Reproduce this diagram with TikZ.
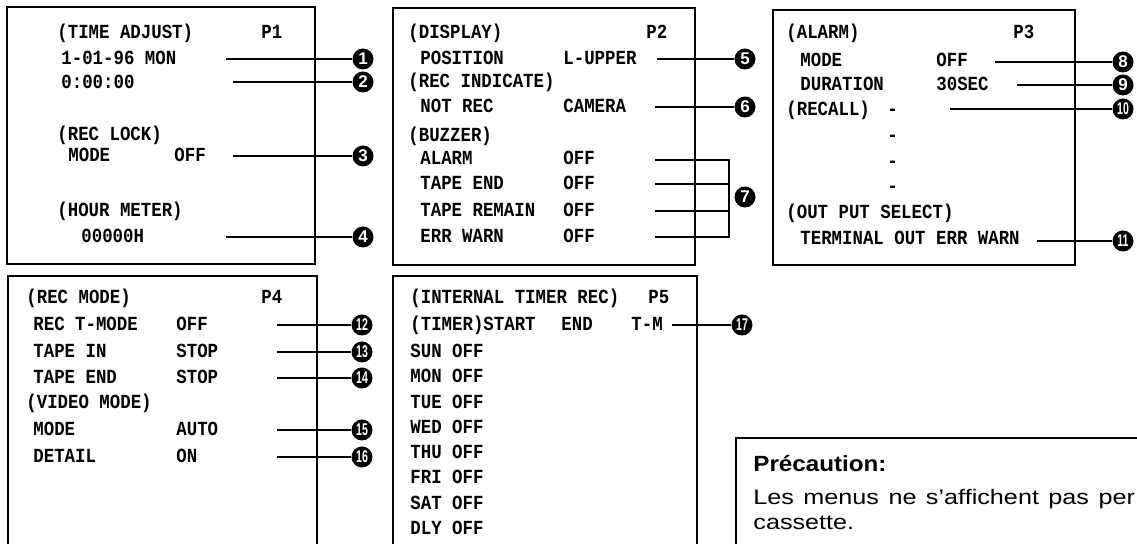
\documentclass[tikz,border=0pt]{standalone}
\usepackage{graphicx}
\usepackage{fontspec}
\setmainfont{Liberation Sans}
\newfontfamily\lcdfont[FakeStretch=0.87]{Liberation Mono}
\usetikzlibrary{positioning}
\newcommand{\twodig}[1]{\scalebox{0.62}[1]{#1}}

\begin{document}
\begin{tikzpicture}[x=0.5pt, y=-0.5pt,
    panel/.style={draw, line width=1.1pt},
    lcd/.style={anchor=base west, inner sep=0pt, font=\lcdfont\bfseries\fontsize{10}{12}\selectfont},
    num/.style={circle, fill=black, text=white, inner sep=0pt, minimum size=10.5pt, font=\bfseries\fontsize{8.5}{9}\selectfont},
    lead/.style={line width=0.9pt},
    note/.style={anchor=base west, inner sep=0pt}
]
\clip (0,0) rectangle (1137,544);

% P1
\draw[panel] (7,7) rectangle (315,264);
\node[lcd] (p1head) at (57,39) {(TIME ADJUST)};
\node[lcd] (p1tag) at (261,39) {P1};
\node[lcd] (date) at (61,65) {1-01-96 MON};
\node[lcd] (clock) at (61,89) {0:00:00};
\node[lcd] (lockhead) at (57,141) {(REC LOCK)};
\node[lcd] (lockmode) at (68,162) {MODE};
\node[lcd] (lockval) at (174,162) {OFF};
\node[lcd] (meterhead) at (57,217) {(HOUR METER)};
\node[lcd] (meterval) at (81,243) {00000H};
\coordinate (l1) at (226,59);
\coordinate (l2) at (233,82);
\coordinate (l3) at (233,156);
\coordinate (l4) at (226,237);
\node[num] (c1) at (363,59) {1};
\node[num] (c2) at (363,82) {2};
\node[num] (c3) at (363,156) {3};
\node[num] (c4) at (363,237) {4};
\draw[lead] (l1) -- (c1);
\draw[lead] (l2) -- (c2);
\draw[lead] (l3) -- (c3);
\draw[lead] (l4) -- (c4);

% P2
\draw[panel] (393,8) rectangle (695,265);
\node[lcd] (p2head) at (408,39) {(DISPLAY)};
\node[lcd] (p2tag) at (646,39) {P2};
\node[lcd] (position) at (420,65) {POSITION};
\node[lcd] (posval) at (563,65) {L-UPPER};
\node[lcd] (indhead) at (408,88) {(REC INDICATE)};
\node[lcd] (notrec) at (420,113) {NOT REC};
\node[lcd] (notrecval) at (563,113) {CAMERA};
\node[lcd] (buzzhead) at (408,142) {(BUZZER)};
\node[lcd] (bzalarm) at (420,165) {ALARM};
\node[lcd] (bzend) at (420,190) {TAPE END};
\node[lcd] (bzremain) at (420,217) {TAPE REMAIN};
\node[lcd] (bzwarn) at (420,243) {ERR WARN};
\node[lcd] (bzalarmval) at (563,165) {OFF};
\node[lcd] (bzendval) at (563,190) {OFF};
\node[lcd] (bzremainval) at (563,217) {OFF};
\node[lcd] (bzwarnval) at (563,243) {OFF};
\coordinate (l5) at (657,59);
\coordinate (l6) at (655,107);
\coordinate (l7a) at (655,160);
\coordinate (l7b) at (655,184);
\coordinate (l7c) at (655,211);
\coordinate (l7d) at (655,237);
\coordinate (k7a) at (729,160);
\coordinate (k7d) at (729,237);
\node[num] (c5) at (745,59) {5};
\node[num] (c6) at (745,107) {6};
\node[num] (c7) at (745,197) {7};
\draw[lead] (l5) -- (c5);
\draw[lead] (l6) -- (c6);
\draw[lead] (l7a) -- (k7a) -- (k7d) -- (l7d);
\draw[lead] (l7b) -- (l7b -| k7a);
\draw[lead] (l7c) -- (l7c -| k7a);

% P3
\draw[panel] (773,10) rectangle (1075,265);
\node[lcd] (p3head) at (786,39) {(ALARM)};
\node[lcd] (p3tag) at (1013,39) {P3};
\node[lcd] (almode) at (800,67) {MODE};
\node[lcd] (almodeval) at (936,67) {OFF};
\node[lcd] (duration) at (800,91) {DURATION};
\node[lcd] (durval) at (936,91) {30SEC};
\node[lcd] (recall) at (786,116) {(RECALL)};
\node[lcd] (rc1) at (887,116) {-};
\node[lcd] (rc2) at (887,142) {-};
\node[lcd] (rc3) at (887,168) {-};
\node[lcd] (rc4) at (887,193) {-};
\node[lcd] (outhead) at (786,219) {(OUT PUT SELECT)};
\node[lcd] (outval) at (800,245) {TERMINAL OUT ERR WARN};
\coordinate (l8) at (995,62);
\coordinate (l9) at (1017,85);
\coordinate (l10) at (950,109);
\coordinate (l11) at (1037,241);
\node[num] (c8) at (1123,62) {8};
\node[num] (c9) at (1123,85) {9};
\node[num] (c10) at (1123,109) {\twodig{10}};
\node[num] (c11) at (1123,241) {\twodig{11}};
\draw[lead] (l8) -- (c8);
\draw[lead] (l9) -- (c9);
\draw[lead] (l10) -- (c10);
\draw[lead] (l11) -- (c11);

% P4
\draw[panel] (8,276) rectangle (317,560);
\node[lcd] (p4head) at (26,304) {(REC MODE)};
\node[lcd] (p4tag) at (261,304) {P4};
\node[lcd] (tmode) at (33,331) {REC T-MODE};
\node[lcd] (tmodeval) at (176,331) {OFF};
\node[lcd] (tapein) at (33,358) {TAPE IN};
\node[lcd] (tapeinval) at (176,358) {STOP};
\node[lcd] (tapeend) at (33,384) {TAPE END};
\node[lcd] (tapeendval) at (176,384) {STOP};
\node[lcd] (videohead) at (26,409) {(VIDEO MODE)};
\node[lcd] (vmode) at (33,436) {MODE};
\node[lcd] (vmodeval) at (176,436) {AUTO};
\node[lcd] (detail) at (33,463) {DETAIL};
\node[lcd] (detailval) at (176,463) {ON};
\coordinate (l12) at (277,325);
\coordinate (l13) at (277,352);
\coordinate (l14) at (277,378);
\coordinate (l15) at (277,430);
\coordinate (l16) at (277,457);
\node[num] (c12) at (362,325) {\twodig{12}};
\node[num] (c13) at (362,352) {\twodig{13}};
\node[num] (c14) at (362,378) {\twodig{14}};
\node[num] (c15) at (362,430) {\twodig{15}};
\node[num] (c16) at (362,457) {\twodig{16}};
\draw[lead] (l12) -- (c12);
\draw[lead] (l13) -- (c13);
\draw[lead] (l14) -- (c14);
\draw[lead] (l15) -- (c15);
\draw[lead] (l16) -- (c16);

% P5
\draw[panel] (393,276) rectangle (697,560);
\node[lcd] (p5head) at (410,304) {(INTERNAL TIMER REC)};
\node[lcd] (p5tag) at (648,304) {P5};
\node[lcd] (timerstart) at (410,331) {(TIMER)START};
\node[lcd] (timerend) at (561,331) {END};
\node[lcd] (timertm) at (631,331) {T-M};
\foreach \d/\y in {SUN/358, MON/383, TUE/409, WED/434, THU/459, FRI/484, SAT/510, DLY/535}
    \node[lcd] (day\d) at (410,\y) {\d{} OFF};
\coordinate (l17) at (672,325);
\node[num] (c17) at (742,325) {\twodig{17}};
\draw[lead] (l17) -- (c17);

% note
\draw[panel] (736,438) rectangle (1150,560);
\node[note, font=\bfseries\fontsize{11}{13}\selectfont] (notehead) at (753,472) {\scalebox{1.1}[1]{Précaution:}};
\node[note, font=\fontsize{10.5}{12}\selectfont] (notebody) at (753,505) {\scalebox{1.2}[1]{\makebox[159pt][s]{Les menus ne s’affichent pas per}}};
\node[note, font=\fontsize{10.5}{12}\selectfont] (notetail) at (753,530) {\scalebox{1.2}[1]{cassette.}};
\end{tikzpicture}
\end{document}
